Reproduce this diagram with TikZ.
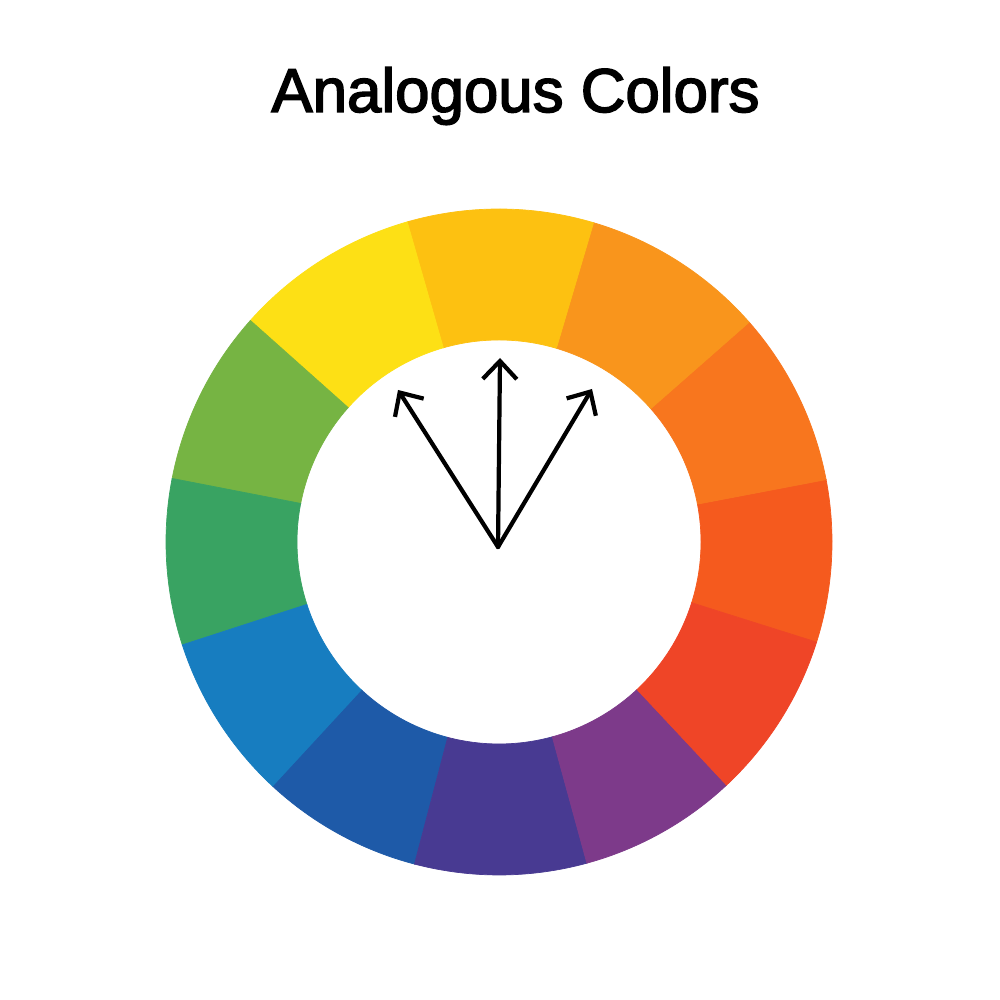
\documentclass[tikz,border=0pt]{standalone}
\usepackage{fontspec}
\setmainfont{Liberation Sans}
\newfontfamily\titlefont{Liberation Sans}[FakeBold=2.5]
\usetikzlibrary{arrows.meta}
\definecolor{cOR}{HTML}{F55A1E}
\definecolor{cO}{HTML}{F8761E}
\definecolor{cOY}{HTML}{F9951C}
\definecolor{cYO}{HTML}{FDC111}
\definecolor{cY}{HTML}{FDE015}
\definecolor{cYG}{HTML}{76B443}
\definecolor{cG}{HTML}{39A362}
\definecolor{cLB}{HTML}{177DC0}
\definecolor{cB}{HTML}{1E5AA8}
\definecolor{cI}{HTML}{483A92}
\definecolor{cP}{HTML}{7D3A8A}
\definecolor{cR}{HTML}{EF4527}
\tikzset{
  arrowline/.style={draw=black, line width=1.2pt, line cap=round, line join=round,
    -{Straight Barb[length=1.8mm, width=3.4mm, line width=1.2pt]}},
  titletext/.style={font=\titlefont\fontsize{17.6}{20}\selectfont, text=black, inner sep=0pt, anchor=base}
}
\newcommand{\wedgeseg}[3]{%
  \fill[#3, draw=#3, line width=0.2pt, shift={(C)}] (#1:3.33) arc[start angle=#1, end angle=#2, radius=3.33]
    -- (#2:2.02) arc[start angle=#2, end angle=#1, radius=2.02] -- cycle;}
\begin{document}
\begin{tikzpicture}
\useasboundingbox (0,0) rectangle (10,10);
\fill[white] (0,0) rectangle (10,10);
\coordinate (C) at (4.99,4.58);
\wedgeseg{-17.5}{10.8}{cOR}
\wedgeseg{10.8}{41.3}{cO}
\wedgeseg{41.3}{73.5}{cOY}
\wedgeseg{73.5}{106}{cYO}
\wedgeseg{106}{138.3}{cY}
\wedgeseg{138.3}{169}{cYG}
\wedgeseg{169}{198}{cG}
\wedgeseg{198}{227.3}{cLB}
\wedgeseg{227.3}{255.3}{cB}
\wedgeseg{255.3}{285.3}{cI}
\wedgeseg{285.3}{313.1}{cP}
\wedgeseg{313.1}{342.5}{cR}
\node[titletext] (title) at (5.155,8.88) {Analogous Colors};
\coordinate (O) at (4.98,4.53);
\coordinate (tipL) at (3.98,6.10);
\coordinate (tipM) at (5.00,6.42);
\coordinate (tipR) at (5.92,6.11);
\draw[arrowline] (O) -- (tipL);
\draw[arrowline] (O) -- (tipM);
\draw[arrowline] (O) -- (tipR);
\end{tikzpicture}
\end{document}
